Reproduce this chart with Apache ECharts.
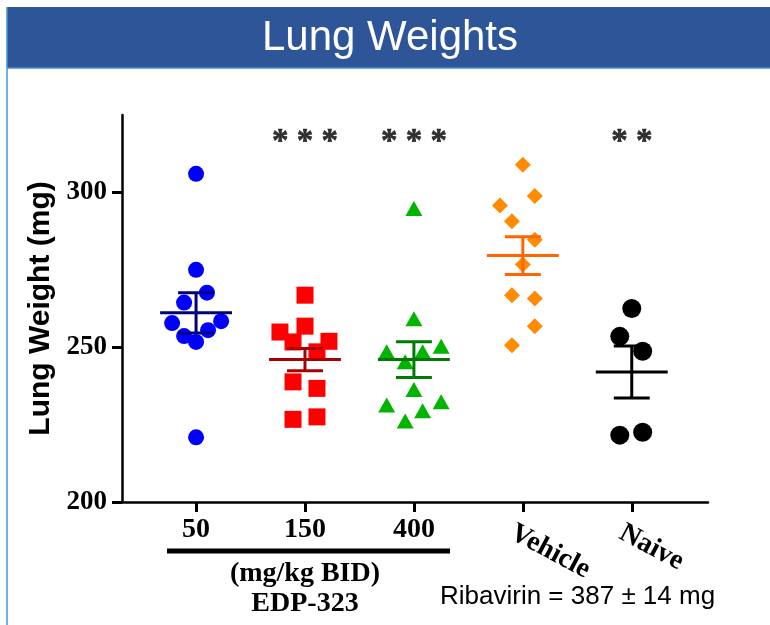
<!DOCTYPE html>
<html><head><meta charset="utf-8">
<script src="https://cdn.jsdelivr.net/npm/echarts@6/dist/echarts.min.js"></script>
<style>html,body{margin:0;padding:0;background:#fff}#c{width:770px;height:625px}</style>
</head><body><div id="c"></div>
<script>
// ---- data ----
const groupNames = ['50', '150', '400', 'Vehicle', 'Naive'];
const g50      = [306.0, 275.0, 267.6, 264.4, 257.8, 258.4, 255.5, 253.6, 251.7, 220.9];
const g50Jit   = [0, 0, 0.10, -0.11, -0.22, 0.23, 0.11, -0.11, 0, 0];
const g150     = [266.8, 254.9, 256.8, 251.7, 251.9, 248.5, 238.8, 236.7, 226.7, 227.5];
const g150Jit  = [0, -0.23, 0, -0.11, 0.22, 0.11, -0.11, 0.11, -0.11, 0.11];
const g400     = [294.8, 259.2, 248.5, 248.5, 250.3, 245.3, 236.3, 231.3, 232.4, 229.5, 226.2];
const g400Jit  = [0, 0, -0.25, 0.08, 0.25, -0.08, 0, -0.25, 0.25, 0.08, -0.08];
const gVeh     = [308.9, 298.8, 295.8, 290.7, 284.7, 276.7, 266.8, 265.7, 256.8, 250.6];
const gVehJit  = [0, 0.11, -0.21, -0.10, 0.11, 0, -0.10, 0.11, 0.11, -0.10];
const gNaive   = [262.5, 253.5, 248.7, 221.6, 222.5];
const gNaiveJit= [0, -0.11, 0.10, -0.11, 0.10];
const means    = [261.1, 246.0, 246.0, 279.6, 242.0];
const sems     = [6.5, 3.6, 5.8, 6.1, 8.4];
const stars    = ['', '* * *', '* * *', '', '* *'];
const yTicks   = [200, 250, 300];

// ---- styles ----
const pointColors = ['#0000FF', '#FF0000', '#00B400', '#FF8C00', '#000000'];
const barColors   = ['#00007A', '#A80000', '#007A00', '#FF6600', '#000000'];
const symbols     = ['circle', 'rect', 'triangle', 'diamond', 'circle'];
const symSizes    = [16, 17, [17, 15], [16, 16], 19];
const groups = [[g50, g50Jit], [g150, g150Jit], [g400, g400Jit], [gVeh, gVehJit], [gNaive, gNaiveJit]];

const serif = 'Liberation Serif';
const sans = 'Liberation Sans';

const scatterSeries = groups.map(([vals, jit], i) => ({
  type: 'scatter',
  name: groupNames[i],
  symbol: symbols[i],
  symbolSize: symSizes[i],
  itemStyle: { color: pointColors[i], opacity: 1 },
  data: vals.map((v, k) => [i + 1 + jit[k], v]),
  z: 2
}));

const errSeries = {
  type: 'custom',
  z: 3,
  data: means.map((m, i) => [i + 1, m, sems[i]]),
  renderItem(params, api) {
    const x = api.value(0), m = api.value(1), s = api.value(2);
    const c = api.coord([x, m]);
    const t = api.coord([x, m + s]);
    const b = api.coord([x, m - s]);
    const hm = api.size([0.33, 0])[0];
    const hc = api.size([0.165, 0])[0];
    const style = { stroke: barColors[params.dataIndex], lineWidth: 3 };
    return { type: 'group', children: [
      { type: 'line', shape: { x1: c[0] - hm, y1: c[1], x2: c[0] + hm, y2: c[1] }, style },
      { type: 'line', shape: { x1: t[0], y1: t[1], x2: b[0], y2: b[1] }, style },
      { type: 'line', shape: { x1: t[0] - hc, y1: t[1], x2: t[0] + hc, y2: t[1] }, style },
      { type: 'line', shape: { x1: b[0] - hc, y1: b[1], x2: b[0] + hc, y2: b[1] }, style }
    ]};
  }
};

const starSeries = {
  type: 'scatter',
  symbolSize: 0,
  silent: true,
  data: stars.map((s, i) => [i + 1, 316, s]).filter(d => d[2] !== ''),
  label: { show: true, position: 'inside', formatter: p => p.data[2],
           fontFamily: serif, fontWeight: 'bold', fontSize: 33, color: '#000',
           textBorderColor: '#000', textBorderWidth: 0.6 },
  z: 4
};

const xMin = 0.32, xMax = 5.7;
const chart = echarts.init(document.getElementById('c'), null, { renderer: 'canvas' });
chart.setOption({
  animation: false,
  backgroundColor: '#fff',
  grid: { left: 122, right: 62, top: 115, bottom: 123 },
  xAxis: [{
    type: 'value', min: xMin, max: xMax,
    axisLine: { show: true, onZero: false, lineStyle: { color: '#000', width: 2.5 } },
    axisTick: { show: true, customValues: [1, 2, 3, 4, 5], length: 10, lineStyle: { color: '#000', width: 3 } },
    axisLabel: { customValues: [1, 2, 3], formatter: v => groupNames[Math.round(v) - 1],
                 margin: 14, fontFamily: serif, fontWeight: 'bold', fontSize: 28, color: '#000' },
    splitLine: { show: false }
  }, {
    type: 'value', min: xMin, max: xMax, position: 'bottom',
    axisLine: { show: false }, axisTick: { show: false }, splitLine: { show: false },
    axisLabel: { customValues: [4, 5], formatter: v => groupNames[Math.round(v) - 1], rotate: -28,
                 margin: 35, fontFamily: serif, fontWeight: 'bold', fontSize: 28, color: '#000',
                 padding: [0, 0, 0, -12] }
  }],
  yAxis: {
    type: 'value', min: 200, max: 325, interval: 25,
    name: 'Lung Weight (mg)', nameLocation: 'middle', nameGap: 62,
    nameTextStyle: { fontFamily: sans, fontWeight: 'bold', fontSize: 30, color: '#000' },
    axisLine: { show: true, lineStyle: { color: '#000', width: 2.5 } },
    axisTick: { show: true, customValues: yTicks, length: 10, lineStyle: { color: '#000', width: 3 } },
    axisLabel: { customValues: yTicks, margin: 15, fontFamily: serif, fontWeight: 'bold', fontSize: 27, color: '#000' },
    splitLine: { show: false }
  },
  series: [...scatterSeries, errSeries, starSeries],
  graphic: [
    { type: 'rect', shape: { x: 7, y: 7, width: 770, height: 61 }, style: { fill: '#2D5597' }, z: 10 },
    { type: 'line', shape: { x1: 7, y1: 68, x2: 770, y2: 68 }, style: { stroke: '#3F8FD8', lineWidth: 1.5 }, z: 11 },
    { type: 'line', shape: { x1: 7, y1: 7, x2: 7, y2: 625 }, style: { stroke: '#4A93D6', lineWidth: 1.5 }, z: 11 },
    { type: 'text', style: { text: 'Lung Weights', x: 390, y: 38, align: 'center', verticalAlign: 'middle',
        font: '42px "Liberation Sans"', fill: '#fff' }, z: 12 },
    { type: 'line', shape: { x1: 167, y1: 551, x2: 450, y2: 551 }, style: { stroke: '#000', lineWidth: 5 } },
    { type: 'text', style: { text: '(mg/kg BID)', x: 305, y: 574, align: 'center', verticalAlign: 'middle',
        font: 'bold 28px "Liberation Serif"', fill: '#000' } },
    { type: 'text', style: { text: 'EDP-323', x: 305, y: 604, align: 'center', verticalAlign: 'middle',
        font: 'bold 28px "Liberation Serif"', fill: '#000' } },
    { type: 'text', style: { text: 'Ribavirin = 387 \u00b1 14 mg', x: 440, y: 597, align: 'left', verticalAlign: 'middle',
        font: '26px "Liberation Sans"', fill: '#000' } }
  ]
});
</script></body></html>
